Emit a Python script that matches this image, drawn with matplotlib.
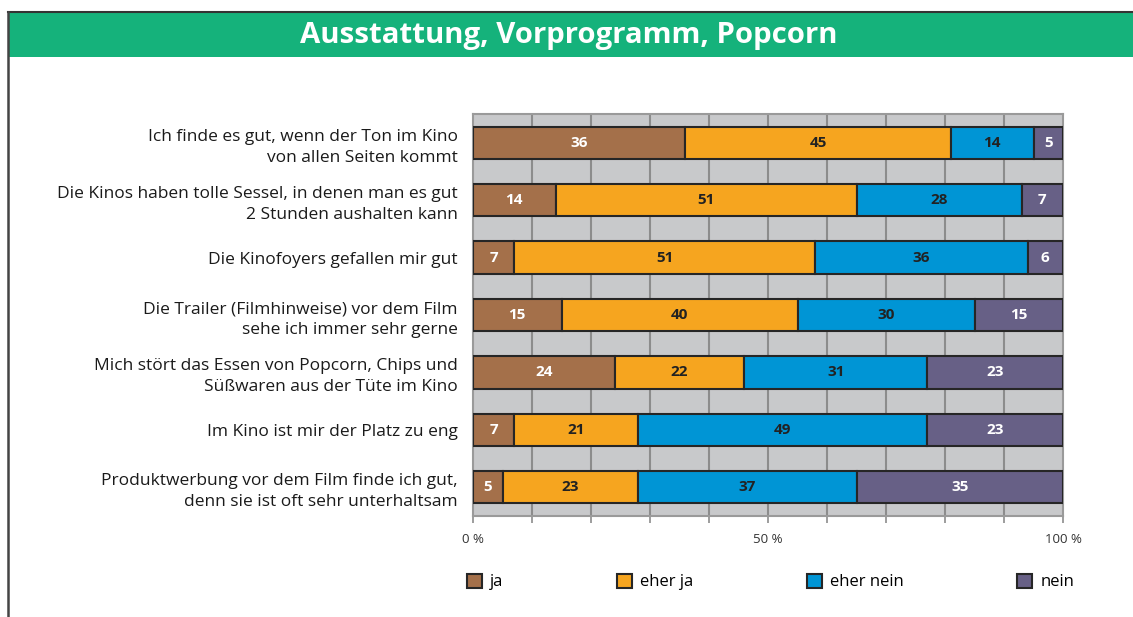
import matplotlib
matplotlib.use("Agg")
import matplotlib.pyplot as plt
from matplotlib.patches import Rectangle, Patch
from matplotlib.lines import Line2D
import numpy as np

plt.rcParams['font.family'] = ['Open Sans', 'DejaVu Sans']

title = "Ausstattung, Vorprogramm, Popcorn"
categories = [
    "Ich finde es gut, wenn der Ton im Kino\nvon allen Seiten kommt",
    "Die Kinos haben tolle Sessel, in denen man es gut\n2 Stunden aushalten kann",
    "Die Kinofoyers gefallen mir gut",
    "Die Trailer (Filmhinweise) vor dem Film\nsehe ich immer sehr gerne",
    "Mich stört das Essen von Popcorn, Chips und\nSüßwaren aus der Tüte im Kino",
    "Im Kino ist mir der Platz zu eng",
    "Produktwerbung vor dem Film finde ich gut,\ndenn sie ist oft sehr unterhaltsam",
]
series_names = ["ja", "eher ja", "eher nein", "nein"]
ja = [36, 14, 7, 15, 24, 7, 5]
eher_ja = [45, 51, 51, 40, 22, 21, 23]
eher_nein = [14, 28, 36, 30, 31, 49, 37]
nein = [5, 7, 6, 15, 23, 23, 35]
tick_positions = [0, 50, 100]
tick_labels = ["0 %", "50 %", "100 %"]

colors = ["#a4704a", "#f6a51f", "#0095d5", "#676086"]
text_colors = ["white", "#222222", "#222222", "white"]

fig = plt.figure(figsize=(11.33, 6.17), dpi=100)
fig.patch.set_facecolor("white")

# Banner
fig.patches.append(Rectangle((8/1133, 1-57/617), 1-8/1133, 45/617, transform=fig.transFigure,
                             facecolor="#15b27b", edgecolor="none", zorder=0))
fig.lines.append(Line2D([8/1133, 1], [1-12/617, 1-12/617], transform=fig.transFigure,
                        color="#333333", lw=1.5))
fig.lines.append(Line2D([8/1133, 8/1133], [0, 1-12/617], transform=fig.transFigure,
                        color="#444444", lw=1.8))
fig.text(569/1133, 1-35/617, title, ha="center", va="center", color="white",
         fontsize=21.2, fontweight="bold")

ax = fig.add_axes([473/1133, 1-516/617, 590/1133, 402/617])
ax.set_facecolor("#c8c9cb")
y = np.arange(len(categories))
data = [ja, eher_ja, eher_nein, nein]
left = np.zeros(len(categories))
for vals, c, tc, name in zip(data, colors, text_colors, series_names):
    vals = np.array(vals, dtype=float)
    ax.barh(y, vals, left=left, height=0.56, color=c, edgecolor="#262626",
            linewidth=1.5, label=name, zorder=3)
    for yi, l, v in zip(y, left, vals):
        ax.text(l + v/2, yi, f"{int(v)}", ha="center", va="center", color=tc,
                fontsize=11, fontweight="bold", zorder=4)
    left += vals

ax.set_xlim(0, 100)
ax.set_ylim(6.5, -0.5)
for gx in range(10, 100, 10):
    ax.axvline(gx, color="#8c8c8c", lw=1.5, zorder=1)
for s in ax.spines.values():
    s.set_color("#9a9a9a")
    s.set_linewidth(1.5)

ax.set_xticks(range(0, 101, 10))
ax.set_xticklabels([tick_labels[tick_positions.index(t)] if t in tick_positions else "" for t in range(0, 101, 10)],
                   fontsize=9.5, color="#333333")
ax.tick_params(axis="x", length=5, width=1.2, color="#8c8c8c", pad=7)
ax.set_yticks(y)
ax.set_yticklabels(categories, fontsize=12.5, color="#1a1a1a", linespacing=1.4)
ax.tick_params(axis="y", length=0, pad=11)

handles = [Patch(facecolor=c, edgecolor="#262626", linewidth=1.5, label=n)
           for c, n in zip(colors, series_names)]
fig.legend(handles=handles, loc="center left", bbox_to_anchor=(467/1133, 1-582/617),
           ncol=4, frameon=False, fontsize=12, handlelength=0.9, handleheight=0.9,
           handletextpad=0.5, columnspacing=6.8, borderaxespad=0, borderpad=0)

fig.savefig("out.png", dpi=100)
